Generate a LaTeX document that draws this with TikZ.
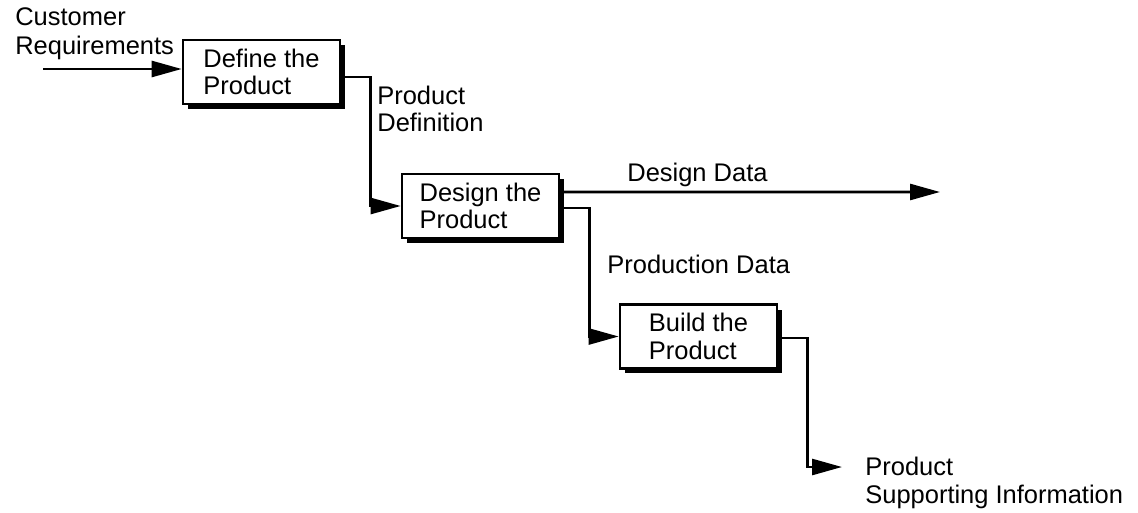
\documentclass[tikz,border=0pt]{standalone}
\usepackage{fontspec}
\setmainfont{Liberation Sans}
\usetikzlibrary{arrows.meta,shadows}

\tikzset{
  stage/.style={draw, line width=1.5pt, fill=white, minimum width=3.14cm, minimum height=1.28cm,
    align=left, inner sep=0pt,
    drop shadow={shadow xshift=0.1cm, shadow yshift=-0.1cm, fill=black, opacity=1}},
  flow/.style={line width=1.5pt, -{Triangle[length=0.6cm, width=0.32cm]}},
  lbl/.style={inner sep=0pt, align=left, anchor=west},
}

\begin{document}
\begin{tikzpicture}[x=0.02cm, y=-0.02cm, font=\fontsize{14.5}{15.5}\selectfont]
  \useasboundingbox (0,0) rectangle (1138,513);
  \node[stage] (define) at (261.5,72) {Define the\\Product};
  \node[stage] (design) at (480.5,206) {Design the\\Product};
  \node[stage] (build) at (698.5,336.5) {Build the\\Product};
  \node[lbl, font=\fontsize{14.5}{16.5}\selectfont] (custreq) at (15,34) {Customer\\Requirements};
  \node[lbl] (proddef) at (377,109) {Product\\Definition};
  \node[lbl] (desdata) at (627,175) {Design Data};
  \node[lbl] (prodata) at (607,264) {Production Data};
  \node[lbl] (support) at (865,483) {Product\\Supporting Information};
  \coordinate (custin) at (43,69);
  \coordinate (desout) at (940,192);
  \coordinate (suppin) at (842,467);
  \draw[flow] (custin) -- (define.west |- custin);
  \draw[flow] ([yshift=-0.1cm]define.east) -- ++(29,0) |- (design.west);
  \draw[flow] ([yshift=0.28cm]design.east) -- (desout);
  \draw[flow] ([yshift=-0.04cm]design.east) -- ++(29,0) |- (build.west);
  \draw[flow] ([yshift=-0.03cm]build.east) -- ++(29,0) |- (suppin);
\end{tikzpicture}
\end{document}
